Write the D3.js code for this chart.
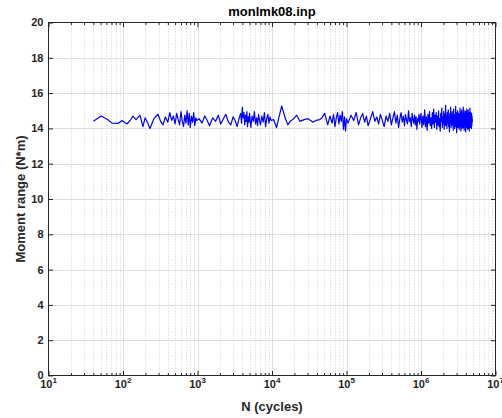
<!DOCTYPE html>
<html>
<head>
<meta charset="utf-8">
<script src="https://cdn.jsdelivr.net/npm/d3@7/dist/d3.min.js"></script>
<style>
  body { margin: 0; background: #fff; }
  svg { display: block; font-family: "Liberation Sans", Arial, Helvetica, sans-serif; }
</style>
</head>
<body>
<svg id="chart" width="502" height="418"></svg>
<script>
// Moment range measured against cycle count (monlmk08.inp)
const cycles = [
  40, 51, 62, 71, 86, 97, 113, 125, 136, 150, 169, 185, 198, 215, 230, 260, 295, 320, 345, 370,
  400, 425, 450, 475, 500, 525, 550, 575, 600, 625, 650, 675, 700, 725, 750, 775, 800, 830, 860, 890,
  920, 950, 980,
  1050, 1150, 1250, 1350, 1450, 1600, 1750, 1900, 2050, 2200, 2400, 2600, 2800, 3000, 3200, 3400,
  3600, 3800, 3900, 4000, 4100, 4200, 4300, 4400, 4500, 4600, 4700, 4800, 4900, 5000, 5200, 5400,
  5600, 5800, 6000, 6200, 6400, 6600, 6800, 7000, 7300, 7600, 7900, 8200, 8500, 8800, 9100, 9400, 9700,
  10500, 11500, 12500, 13500, 15000, 16300, 17500, 19000, 21500, 23700, 27000, 30400, 33000, 35500,
  39000, 43800, 47000, 51000, 56000, 60000, 64000, 67000, 70000, 73000, 76000, 79000, 82000, 85000,
  88000, 91000, 94000, 97000, 100000,
  105000, 115000, 125000, 135000, 145000, 155000, 165000, 175000, 185000, 195000, 210000, 225000,
  240000, 255000, 270000, 285000, 300000, 320000, 340000, 360000, 380000, 400000, 420000, 440000,
  460000, 480000, 500000, 520000, 540000, 560000, 580000, 600000, 620000, 640000, 660000, 680000,
  700000, 720000, 740000, 760000, 780000, 800000, 820000, 840000, 860000, 880000, 900000, 920000,
  940000, 960000, 980000,
  1000000, 1030000, 1060000, 1090000, 1120000, 1150000, 1180000, 1210000, 1240000, 1270000,
  1300000, 1330000, 1360000, 1390000, 1420000, 1450000, 1480000, 1510000, 1540000, 1570000,
  1600000, 1630000, 1660000, 1690000, 1720000, 1750000, 1780000, 1810000, 1840000, 1870000,
  1900000, 1930000, 1960000, 1990000, 2020000, 2050000, 2080000, 2110000, 2140000, 2170000,
  2200000, 2230000, 2260000, 2290000, 2320000, 2350000, 2380000, 2410000, 2440000, 2470000,
  2500000, 2530000, 2560000, 2590000, 2620000, 2650000, 2680000, 2710000, 2740000, 2770000,
  2800000, 2830000, 2860000, 2890000, 2920000, 2950000, 2980000, 3010000, 3040000, 3070000,
  3100000, 3130000, 3160000, 3190000, 3220000, 3250000, 3280000, 3310000, 3340000, 3370000,
  3400000, 3430000, 3460000, 3490000, 3520000, 3550000, 3580000, 3610000, 3640000, 3670000,
  3700000, 3730000, 3760000, 3790000, 3820000, 3850000, 3880000, 3910000, 3940000, 3970000,
  4000000, 4030000, 4060000, 4090000, 4120000, 4150000, 4180000, 4210000, 4240000, 4270000,
  4300000, 4330000, 4360000, 4390000, 4420000, 4450000, 4480000, 4510000, 4540000, 4570000,
  4600000, 4630000, 4660000, 4690000, 4720000, 4750000, 4780000, 4810000, 4840000, 4870000, 4900000
];

const moment = [
  14.40, 14.70, 14.50, 14.30, 14.28, 14.45, 14.25, 14.45, 14.70, 14.50, 14.75, 14.10, 14.60, 14.30, 14.00, 14.55, 14.80, 14.40, 14.20, 14.65,
  14.35, 14.90, 14.45, 14.70, 14.25, 14.85, 14.50, 14.20, 14.95, 14.40, 14.10, 14.75, 14.30, 15.00, 14.20, 14.85, 14.05, 14.70, 14.35, 14.90,
  14.15, 14.60, 14.45,
  14.55, 14.30, 14.70, 14.45, 14.15, 14.60, 14.40, 14.75, 14.25, 14.50, 14.80, 14.35, 14.20, 14.65, 14.45, 14.10,
  14.55, 14.85, 14.30, 15.20, 14.60, 14.90, 14.20, 14.75, 14.40, 14.95, 14.10, 14.65, 14.35, 14.85, 14.05, 14.70,
  14.40, 14.95, 14.25, 14.60, 14.15, 14.80, 14.45, 14.20, 14.70, 14.35, 14.90, 14.10, 14.55, 14.80, 14.30, 14.65, 14.45,
  14.50, 14.05, 14.70, 15.27, 14.60, 14.20, 14.40, 14.50, 14.75, 14.40, 14.50, 14.55, 14.45, 14.35,
  14.45, 14.50, 14.60, 14.85, 14.20, 14.70, 14.30, 14.80, 14.10, 14.60, 14.90, 14.25, 14.75, 14.40,
  14.95, 13.95, 14.65, 13.85, 14.55,
  14.30, 14.75, 14.45, 14.90, 14.20, 14.60, 14.85, 14.35, 14.70, 14.15, 14.55, 14.95,
  14.40, 14.65, 14.25, 14.80, 14.50, 14.10, 14.70, 14.40, 14.85, 14.20, 14.60, 14.95,
  14.30, 14.75, 14.05, 14.55, 14.90, 14.35, 14.70, 14.15, 14.80, 14.45, 14.25, 15.00,
  14.40, 14.60, 14.10, 14.85, 14.50, 14.30, 14.75, 14.20, 14.65, 13.95, 14.55, 14.40,
  14.80, 14.25, 14.60,
  14.85, 14.05, 14.70, 14.20, 15.05, 14.10, 14.65, 13.90, 14.80, 14.30,
  14.95, 14.15, 14.60, 14.00, 14.90, 14.25, 15.10, 14.05, 14.75, 14.35,
  14.90, 13.95, 14.70, 14.20, 15.00, 14.10, 14.55, 13.85, 14.85, 14.40,
  15.15, 14.05, 14.65, 14.25, 14.95, 13.95, 14.80, 14.15, 15.30, 14.20,
  14.70, 14.00, 14.90, 14.30, 15.05, 14.10, 14.60, 13.80, 14.85, 14.35,
  15.20, 14.05, 14.75, 14.15, 14.95, 14.25, 14.55, 13.90, 15.10, 14.30,
  14.80, 14.00, 14.65, 14.20, 15.25, 14.10, 14.70, 13.75, 14.90, 14.35,
  15.00, 14.05, 14.60, 14.15, 14.85, 13.95, 14.75, 14.25, 15.15, 14.10,
  14.70, 13.85, 14.95, 14.30, 15.05, 14.00, 14.60, 14.20, 14.90, 14.05,
  15.20, 14.15, 14.75, 13.90, 14.85, 14.25, 15.00, 14.10, 14.65, 13.80,
  14.95, 14.20, 14.70, 14.05, 15.10, 14.30, 14.55, 13.95, 14.85, 14.15,
  15.05, 14.00, 14.80, 14.25, 14.90, 13.85, 14.65, 14.10, 15.15, 14.20,
  14.75, 14.05, 14.90, 14.30, 14.60, 14.00, 14.85, 14.15, 14.70, 14.35, 14.50
];

const yTicks = [0, 2, 4, 6, 8, 10, 12, 14, 16, 18, 20];
const xExponents = [1, 2, 3, 4, 5, 6, 7];

const titleText = "monlmk08.inp";
const xLabelText = "N (cycles)";
const yLabelText = "Moment range (N*m)";

const svg = d3.select("#chart");
const plot = { left: 48.5, right: 495.5, top: 22.5, bottom: 375.5 };
const axisColor = "#262626";

const x = d3.scaleLog().domain([10, 1e7]).range([plot.left, plot.right]);
const y = d3.scaleLinear().domain([0, 20]).range([plot.bottom, plot.top]);

const majorX = xExponents.map(e => Math.pow(10, e));
const allX = x.ticks();
const minorX = allX.filter(v => !majorX.some(m => Math.abs(m - v) / m < 1e-9));

// Background
svg.append("rect")
  .attr("x", plot.left).attr("y", plot.top)
  .attr("width", plot.right - plot.left).attr("height", plot.bottom - plot.top)
  .attr("fill", "#fff");

// Grid: dotted minor verticals, solid major lines
const grid = svg.append("g");
grid.selectAll("line.minor")
  .data(minorX).join("line")
  .attr("class", "minor")
  .attr("x1", d => Math.round(x(d)) + 0.5).attr("x2", d => Math.round(x(d)) + 0.5)
  .attr("y1", plot.top).attr("y2", plot.bottom)
  .attr("stroke", "#cfcfcf").attr("stroke-width", 1)
  .attr("stroke-dasharray", "1,2");
grid.selectAll("line.majx")
  .data(majorX.slice(1, -1)).join("line")
  .attr("class", "majx")
  .attr("x1", d => Math.round(x(d)) + 0.5).attr("x2", d => Math.round(x(d)) + 0.5)
  .attr("y1", plot.top).attr("y2", plot.bottom)
  .attr("stroke", "#dedede").attr("stroke-width", 1);
grid.selectAll("line.majy")
  .data(yTicks.slice(1, -1)).join("line")
  .attr("class", "majy")
  .attr("x1", plot.left).attr("x2", plot.right)
  .attr("y1", d => Math.round(y(d)) + 0.5).attr("y2", d => Math.round(y(d)) + 0.5)
  .attr("stroke", "#dedede").attr("stroke-width", 1);

// Data line
const line = d3.line()
  .x((d, i) => x(cycles[i]))
  .y(d => y(d));
svg.append("path")
  .datum(moment)
  .attr("d", line)
  .attr("fill", "none")
  .attr("stroke", "#0000ff")
  .attr("stroke-width", 1.2)
  .attr("stroke-linejoin", "round");

// Axes with inward ticks on all four sides
function styleAxis(g) {
  g.select(".domain").remove();
  g.selectAll(".tick line").attr("stroke", axisColor).attr("stroke-width", 1);
  g.selectAll(".tick text").remove();
}
svg.append("g").attr("transform", `translate(0,${plot.bottom})`)
  .call(d3.axisBottom(x).tickValues(majorX).tickSize(-4.5).tickFormat("")).call(styleAxis);
svg.append("g").attr("transform", `translate(0,${plot.bottom})`)
  .call(d3.axisBottom(x).tickValues(minorX).tickSize(-2.5).tickFormat("")).call(styleAxis);
svg.append("g").attr("transform", `translate(0,${plot.top})`)
  .call(d3.axisTop(x).tickValues(majorX).tickSize(-4.5).tickFormat("")).call(styleAxis);
svg.append("g").attr("transform", `translate(0,${plot.top})`)
  .call(d3.axisTop(x).tickValues(minorX).tickSize(-2.5).tickFormat("")).call(styleAxis);
svg.append("g").attr("transform", `translate(${plot.left},0)`)
  .call(d3.axisLeft(y).tickValues(yTicks).tickSize(-4.5).tickFormat("")).call(styleAxis);
svg.append("g").attr("transform", `translate(${plot.right},0)`)
  .call(d3.axisRight(y).tickValues(yTicks).tickSize(-4.5).tickFormat("")).call(styleAxis);

// Box
svg.append("rect")
  .attr("x", plot.left).attr("y", plot.top)
  .attr("width", plot.right - plot.left).attr("height", plot.bottom - plot.top)
  .attr("fill", "none").attr("stroke", axisColor).attr("stroke-width", 1);

// Tick labels
svg.append("g").selectAll("text")
  .data(yTicks).join("text")
  .attr("x", plot.left - 5)
  .attr("y", d => y(d))
  .attr("dy", "0.36em")
  .attr("text-anchor", "end")
  .attr("font-size", 11).attr("font-weight", "bold")
  .attr("fill", axisColor)
  .text(d => d);

const xl = svg.append("g").selectAll("text")
  .data(xExponents).join("text")
  .attr("x", e => x(Math.pow(10, e)))
  .attr("y", plot.bottom + 12.5)
  .attr("text-anchor", "middle")
  .attr("font-size", 11).attr("font-weight", "bold")
  .attr("fill", axisColor);
xl.append("tspan").text("10");
xl.append("tspan").attr("dy", -5).attr("font-size", 8).text(e => e);

// Title and axis labels
svg.append("text")
  .attr("x", (plot.left + plot.right) / 2).attr("y", 16)
  .attr("text-anchor", "middle")
  .attr("font-size", 13).attr("font-weight", "bold").attr("fill", "#000")
  .text(titleText);
svg.append("text")
  .attr("x", (plot.left + plot.right) / 2).attr("y", 411)
  .attr("text-anchor", "middle")
  .attr("font-size", 13).attr("font-weight", "bold").attr("fill", axisColor)
  .text(xLabelText);
svg.append("text")
  .attr("transform", `translate(25,${(plot.top + plot.bottom) / 2}) rotate(-90)`)
  .attr("text-anchor", "middle")
  .attr("font-size", 13).attr("font-weight", "bold").attr("fill", axisColor)
  .text(yLabelText);
</script>
</body>
</html>
